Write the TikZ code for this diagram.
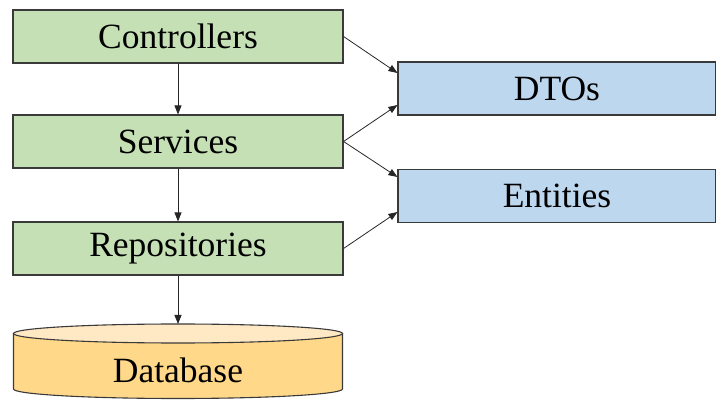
\documentclass[tikz,border=0pt]{standalone}
\usepackage{fontspec}
\setmainfont{Liberation Serif}
\usetikzlibrary{arrows.meta}
\definecolor{greenfill}{HTML}{C5E0B4}
\definecolor{bluefill}{HTML}{BDD7EE}
\definecolor{dbbody}{HTML}{FFD88A}
\definecolor{dbtop}{HTML}{FFE8C4}
\definecolor{edge}{HTML}{3A3A3A}
\begin{document}
\begin{tikzpicture}[x=1pt,y=-1pt,
  layer/.style={draw=edge, line width=1.1pt, fill=greenfill, minimum width=330pt, minimum height=53pt, inner sep=0pt, font=\fontsize{35.5}{40}\selectfont},
  model/.style={draw=edge, line width=1.1pt, fill=bluefill, minimum width=318pt, minimum height=53pt, inner sep=0pt, font=\fontsize{35.5}{40}\selectfont},
  conn/.style={draw=black!85, line width=0.8pt, -{Triangle[length=9pt,width=7pt]}}]
\useasboundingbox (0,0) rectangle (716,401);
\node[layer] (ctrl) at (178,36.5) {Controllers};
\node[layer] (serv) at (178,141.5) {Services};
\node[layer] (repo) at (178,248.5) {Repositories};
\node[model] (dto) at (557,88.5) {DTOs};
\node[model] (ent) at (557,196) {Entities};
% database cylinder
\fill[dbbody] (13.5,333.5) -- (13.5,389) arc[start angle=180,end angle=0,x radius=164.5,y radius=9.5] -- (342.5,333.5) -- cycle;
\draw[edge, line width=1.1pt] (13.5,333.5) -- (13.5,389) arc[start angle=180,end angle=0,x radius=164.5,y radius=9.5] -- (342.5,333.5);
\draw[edge, line width=1.1pt, fill=dbtop] (178,333.5) ellipse[x radius=164.5, y radius=9.5];
\coordinate (dbtopc) at (178,324);
\node[font=\fontsize{35.5}{40}\selectfont] (db) at (178,370) {Database};
% connectors
\draw[conn] (ctrl.south) -- (serv.north);
\draw[conn] (serv.south) -- (repo.north);
\draw[conn] (repo.south) -- (dbtopc);
\draw[conn] (ctrl.east) -- ([yshift=15.5pt]dto.west);
\draw[conn] (serv.east) -- ([yshift=-16.5pt]dto.west);
\draw[conn] (serv.east) -- ([yshift=19pt]ent.west);
\draw[conn] (repo.east) -- ([yshift=-16pt]ent.west);
\end{tikzpicture}
\end{document}
